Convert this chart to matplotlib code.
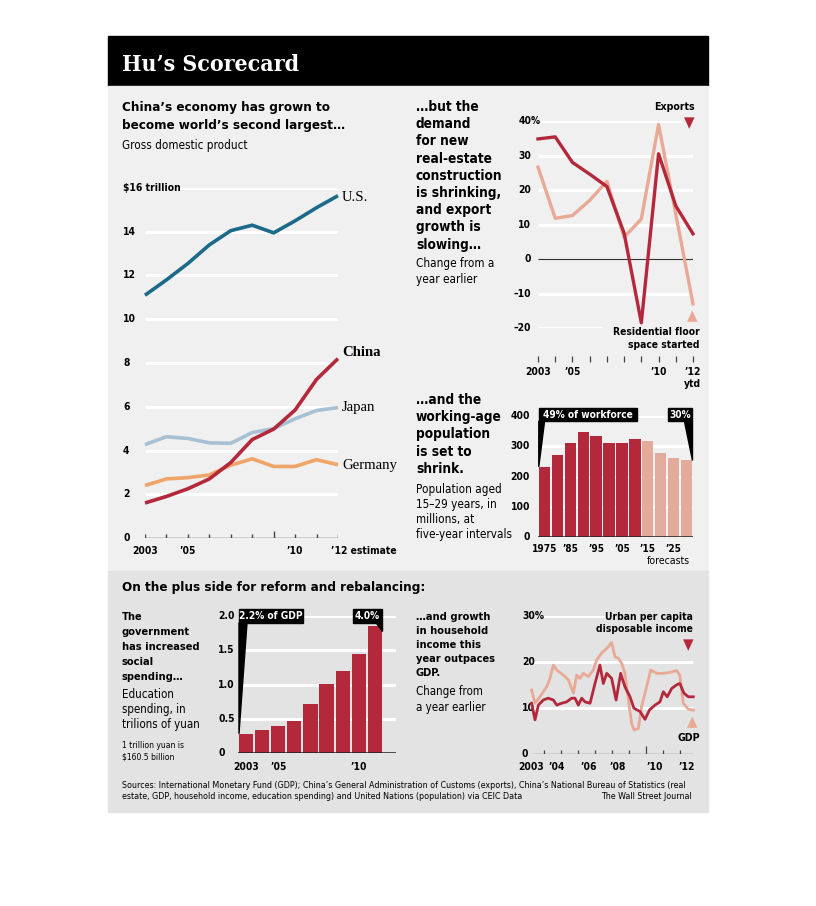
import matplotlib
matplotlib.use("Agg")
import matplotlib.pyplot as plt
from matplotlib import font_manager
from matplotlib.patches import Rectangle, Polygon

W, H = 816, 906

# PIB (trilhões de US$)
gdp_years = [2003, 2004, 2005, 2006, 2007, 2008, 2009, 2010, 2011, 2012]
gdp_us = [11.1, 11.8, 12.55, 13.4, 14.05, 14.3, 13.95, 14.5, 15.1, 15.65]
gdp_china = [1.6, 1.9, 2.25, 2.7, 3.45, 4.5, 4.98, 5.85, 7.25, 8.2]
gdp_japan = [4.27, 4.63, 4.55, 4.35, 4.33, 4.82, 5.0, 5.45, 5.83, 5.96]
gdp_germany = [2.4, 2.7, 2.76, 2.88, 3.33, 3.62, 3.27, 3.27, 3.58, 3.35]

# exportações x área residencial iniciada (% a/a)
trade_years = [2003, 2004, 2005, 2006, 2007, 2008, 2009, 2010, 2011, 2012]
exports = [34.8, 35.4, 28.0, 24.6, 21.0, 7.5, -18.5, 30.5, 15.4, 7.3]
residential = [26.6, 11.8, 12.6, 17.0, 22.5, 6.3, 11.6, 39.0, 13.0, -13.0]

# população 15-29 anos (milhões)
pop_labels = ["1975", "1980", "1985", "1990", "1995", "2000", "2005", "2010", "2015", "2020", "2025", "2030"]
pop_values = [232, 272, 310, 346, 335, 310, 312, 323, 316, 279, 262, 256]
pop_n_actual = 8
pop_tick_labels = ["1975", "", "'85", "", "'95", "", "'05", "", "'15", "", "'25", ""]

# gasto com educação (trilhões de yuan)
edu_years = [2003, 2004, 2005, 2006, 2007, 2008, 2009, 2010, 2011]
edu_values = [0.28, 0.33, 0.39, 0.47, 0.71, 1.01, 1.19, 1.44, 1.86]
edu_tick_labels = ["2003", "", "'05", "", "", "", "", "'10", ""]

# renda urbana x PIB (% a/a, trimestral)
inc_x = [2003.27, 2003.47, 2003.67, 2003.96, 2004.25, 2004.55, 2004.75, 2005.04, 2005.33, 2005.63,
         2005.82, 2006.02, 2006.22, 2006.41, 2006.71, 2007.00, 2007.29, 2007.49, 2007.69, 2007.98,
         2008.24, 2008.51, 2008.76, 2009.06, 2009.29, 2009.65, 2009.94, 2010.20, 2010.53, 2010.82,
         2011.02, 2011.25, 2011.51, 2011.80, 2011.99, 2012.23, 2012.49, 2012.78]
income = [11.1, 7.5, 10.7, 11.8, 12.2, 11.8, 10.7, 11.1, 11.4, 12.2,
          12.2, 10.7, 12.2, 11.4, 11.1, 15.4, 19.4, 15.4, 17.6, 16.5,
          11.8, 17.6, 14.7, 12.5, 10.0, 9.3, 7.6, 9.6, 10.7, 11.4,
          13.6, 12.5, 14.3, 15.1, 15.4, 13.3, 12.5, 12.5]
gdp_q_x = [2003.27, 2003.47, 2003.76, 2004.16, 2004.35, 2004.55, 2004.75, 2005.14, 2005.43, 2005.73,
           2005.92, 2006.12, 2006.31, 2006.61, 2006.90, 2007.10, 2007.39, 2007.69, 2007.98, 2008.18,
           2008.37, 2008.57, 2008.76, 2008.96, 2009.16, 2009.29, 2009.55, 2009.74, 2010.04, 2010.27,
           2010.63, 2011.02, 2011.41, 2011.80, 2011.99, 2012.19, 2012.49, 2012.78]
gdp_q = [14.0, 11.1, 12.5, 14.7, 16.5, 19.4, 18.3, 17.2, 16.2, 13.3,
         17.2, 16.5, 17.6, 16.9, 18.3, 20.5, 22.0, 23.0, 24.3, 21.2,
         20.9, 19.8, 17.6, 11.8, 6.7, 5.3, 5.6, 10.4, 14.7, 18.3,
         17.6, 17.6, 17.8, 18.2, 17.2, 11.1, 9.8, 9.6]

RED = "#b3283b"
PINK = "#e9a997"
PINK_BAR = "#e2ab9c"
TEAL = "#1c6a8a"
JAPAN = "#a8c0d3"
ORANGE = "#efa468"
TOP_BG = "#f0f0f0"
BOT_BG = "#e3e3e3"
AXIS = "#444444"

names = {f.name for f in font_manager.fontManager.ttflist}
if "Liberation Sans Narrow" in names:
    plt.rcParams["font.family"] = "Liberation Sans Narrow"
    FS = 1.25
else:
    plt.rcParams["font.family"] = "DejaVu Sans"
    plt.rcParams["font.stretch"] = "condensed"
    FS = 1.0

fig = plt.figure(figsize=(W / 100, H / 100), dpi=100)
fig.patch.set_facecolor("white")


def rect(x0, y0, x1, y1, color):
    fig.patches.append(Rectangle((x0 / W, 1 - y1 / H), (x1 - x0) / W, (y1 - y0) / H,
                                 transform=fig.transFigure, color=color, zorder=-10))


def text(x, y, s, size, **kw):
    kw.setdefault("va", "center")
    fig.text(x / W, 1 - y / H, s, fontsize=size * FS, **kw)


def block(x, y0, step, rows, size, **kw):
    for i, s in enumerate(rows):
        text(x, y0 + i * step, s, size, **kw)


def axes(x0, y0, x1, y1):
    ax = fig.add_axes([x0 / W, 1 - y1 / H, (x1 - x0) / W, (y1 - y0) / H])
    ax.set_axis_off()
    return ax


def label(ax, s, xy, dx, dy, size=7.4, **kw):
    kw.setdefault("va", "center")
    kw.setdefault("fontweight", "bold")
    ax.annotate(s, xy=xy, xytext=(dx, dy), textcoords="offset pixels",
                annotation_clip=False, fontsize=size * FS, **kw)


# fundos
rect(108, 36, 708, 86, "black")
rect(108, 86, 708, 571, TOP_BG)
rect(108, 571, 708, 812, BOT_BG)
fig.text(122 / W, 1 - 65 / H, "Hu\u2019s Scorecard", color="white", fontsize=16.5, fontweight="bold",
         family="DejaVu Serif", fontstretch="condensed", va="center")

# ---- PIB ----
block(122, 107, 18, ["China\u2019s economy has grown to", "become world\u2019s second largest\u2026"],
      9.6, fontweight="bold")
text(122, 146, "Gross domestic product", 8.4)

ax = axes(145, 188, 338, 538)
ax.set_xlim(2003, 2012)
ax.set_ylim(0, 16)
for v in range(2, 17, 2):
    start = 2004.5 if v == 16 else 2003
    ax.hlines(v, start, 2012, color="white", lw=2.2, zorder=1)
ax.hlines(0, 2003, 2012, color=AXIS, lw=1)
for yr in gdp_years:
    ax.vlines(yr, 0, 0.32 if yr == 2009 else 0.18, color=AXIS, lw=1)
for v in range(0, 17, 2):
    label(ax, "$16 trillion" if v == 16 else str(v), (2003, v), -22, 0, ha="left")
for yr, s in [(2003, "2003"), (2005, "\u201905"), (2010, "\u201910")]:
    label(ax, s, (yr, 0), 0, -13, ha="center")
label(ax, "\u201912 estimate", (2012, 0), -7, -13, ha="left")

for vals, col, z in [(gdp_germany, ORANGE, 2), (gdp_japan, JAPAN, 3), (gdp_us, TEAL, 4), (gdp_china, RED, 5)]:
    ax.plot(gdp_years, vals, color=col, lw=2.6, clip_on=False, zorder=z, solid_capstyle="butt")

ax.annotate("U.S.", (2012, gdp_us[-1]), xytext=(4, -2), textcoords="offset pixels", va="center",
            family="Liberation Serif", fontsize=10.6)
ax.annotate("China", (2012, gdp_china[-1]), xytext=(4, 6), textcoords="offset pixels", va="center",
            family="Liberation Serif", fontsize=10.6, fontweight="bold")
ax.annotate("Japan", (2012, gdp_japan[-1]), xytext=(4, 0), textcoords="offset pixels", va="center",
            family="Liberation Serif", fontsize=10.6)
ax.annotate("Germany", (2012, gdp_germany[-1]), xytext=(4, -1), textcoords="offset pixels", va="center",
            family="Liberation Serif", fontsize=10.6)

# ---- exportações ----
block(416, 107, 17.2, ["\u2026but the", "demand", "for new", "real-estate", "construction",
                       "is shrinking,", "and export", "growth is", "slowing\u2026"],
      9.8, fontweight="bold")
block(416, 264, 16, ["Change from a", "year earlier"], 8.4)

ax = axes(538, 121, 693, 328)
ax.set_xlim(2003, 2012)
ax.set_ylim(-20, 40)
for v in [-10, 10, 20, 30]:
    ax.hlines(v, 2003, 2012, color="white", lw=2.2, zorder=1)
ax.hlines(40, 2003.2, 2011.3, color="white", lw=2.2, zorder=1)
ax.hlines(-20, 2003, 2006.7, color="white", lw=2.2, zorder=1)
ax.hlines(0, 2003, 2012, color="#333333", lw=0.8, zorder=2)
ax.vlines(trade_years, -28, -29.9, color=AXIS, lw=0.9, clip_on=False)
label(ax, "40%", (2003, 40), -19, 0, ha="left")
for v in [30, 20, 10, 0, -10, -20]:
    label(ax, str(v).replace("-", "\u2013"), (2003, v), -7, 0, ha="right")
for yr, s in [(2003, "2003"), (2005, "\u201905"), (2010, "\u201910"), (2012, "\u201912")]:
    label(ax, s, (yr, -20), 0, -44, ha="center")
label(ax, "ytd", (2012, -20), 0, -56, ha="center")
ax.plot(trade_years, residential, color=PINK, lw=2.4, clip_on=False, zorder=3)
ax.plot(trade_years, exports, color=RED, lw=2.4, clip_on=False, zorder=4)

text(695, 107, "Exports", 7.6, ha="right", fontweight="bold")
fig.text(689 / W, 1 - 123 / H, "\u25bc", ha="center", va="center", color=RED, fontsize=11,
         family="DejaVu Sans")
fig.text(692 / W, 1 - 316 / H, "\u25b2", ha="center", va="center", color=PINK, fontsize=11,
         family="DejaVu Sans")
block(700, 332, 13, ["Residential floor", "space started"], 7.4, ha="right", fontweight="bold")

# ---- população ----
block(416, 400, 17.2, ["\u2026and the", "working-age", "population", "is set to", "shrink."],
      9.8, fontweight="bold")
block(416, 489, 15.3, ["Population aged", "15\u201329 years, in", "millions, at", "five-year intervals"],
      8.4)

ax = axes(538, 416, 693, 537)
n = len(pop_values)
ax.set_xlim(-0.5, n - 0.5)
ax.set_ylim(0, 400)
for v in [100, 200, 300, 400]:
    ax.hlines(v, -0.5, n - 0.5, color="white", lw=2.2, zorder=1)
bw = 0.88
colors = [RED if i < pop_n_actual else PINK_BAR for i in range(n)]
ax.bar(range(n), pop_values, width=bw, color=colors, zorder=2)
ax.hlines(0, -0.9, n - 0.5, color="#222222", lw=1.1, zorder=3)
for v in [400, 300, 200, 100, 0]:
    label(ax, str(v), (-0.5, v), -8, 0, ha="right")
for i, s in enumerate(pop_tick_labels):
    if s:
        label(ax, s.replace("'", "\u2019"), (i, 0), 0, -12, size=7.2, ha="center")
label(ax, "forecasts", ((pop_n_actual + n - 1) / 2 + 0.1, 0), 0, -24, size=7.6, ha="center",
      fontweight="normal")
# chamadas
left = -bw / 2
right = n - 1 + bw / 2
ax.add_patch(Rectangle((left, 383), 7.6, 43, color="black", clip_on=False, zorder=5))
ax.add_patch(Polygon([(left, 383), (left + 0.45, 383), (left, pop_values[0])], color="black",
                     clip_on=False, zorder=5))
ax.text(left + 3.8, 404, "49% of workforce", color="white", fontsize=7.3 * FS, fontweight="bold",
        ha="center", va="center", zorder=6)
ax.add_patch(Rectangle((right - 1.9, 383), 1.9, 43, color="black", clip_on=False, zorder=5))
ax.add_patch(Polygon([(right - 0.65, 383), (right, 383), (right, pop_values[-1])], color="black",
                     clip_on=False, zorder=5))
ax.text(right - 0.95, 404, "30%", color="white", fontsize=7.3 * FS, fontweight="bold",
        ha="center", va="center", zorder=6)

# ---- parte de baixo ----
text(122, 588, "On the plus side for reform and rebalancing:", 9.6, fontweight="bold")

block(122, 617, 15, ["The", "government", "has increased", "social", "spending\u2026"],
      7.9, fontweight="bold")
block(122, 694, 15.2, ["Education", "spending, in", "trilions of yuan"], 8.3)
block(122, 745, 12, ["1 trillion yuan is", "$160.5 billion"], 6.1)

ax = axes(238, 616, 396, 753)
m = len(edu_values)
ax.set_xlim(-0.5, 9.31)
ax.set_ylim(0, 2)
for v in [0.5, 1.0, 1.5, 2.0]:
    ax.hlines(v, -0.5, 9.31, color="white", lw=2.2, zorder=1)
ax.bar(range(m), edu_values, width=bw, color=RED, zorder=2)
ax.hlines(0, -0.8, 9.31, color="#222222", lw=1.1, zorder=3)
for v, s in [(2.0, "2.0"), (1.5, "1.5"), (1.0, "1.0"), (0.5, "0.5"), (0, "0")]:
    label(ax, s, (-0.5, v), -20, 0, ha="left")
for i, s in enumerate(edu_tick_labels):
    if s:
        label(ax, s.replace("'", "\u2019"), (i, 0), 0, -14, ha="center")
eleft = -bw / 2
eright = m - 1 + bw / 2
ax.add_patch(Rectangle((eleft, 1.9), 4.0, 0.2, color="black", clip_on=False, zorder=5))
ax.add_patch(Polygon([(eleft, 1.9), (eleft + 0.5, 1.9), (eleft, edu_values[0])], color="black",
                     clip_on=False, zorder=5))
ax.text(eleft + 2.0, 2.0, "2.2% of GDP", color="white", fontsize=7.3 * FS, fontweight="bold",
        ha="center", va="center", zorder=6)
ax.add_patch(Rectangle((eright - 1.8, 1.9), 1.8, 0.2, color="black", clip_on=False, zorder=5))
ax.add_patch(Polygon([(eright - 0.4, 1.9), (eright, 1.9), (eright, edu_values[-1] - 0.08)],
                     color="black", clip_on=False, zorder=5))
ax.text(eright - 0.9, 2.0, "4.0%", color="white", fontsize=7.3 * FS, fontweight="bold",
        ha="center", va="center", zorder=6)

# ---- renda ----
block(416, 617, 14, ["\u2026and growth", "in household", "income this", "year outpaces", "GDP."],
      7.9, fontweight="bold")
block(416, 692, 15, ["Change from", "a year earlier"], 8.3)

ax = axes(527, 616.3, 697, 754.3)
ax.set_xlim(2003, 2013)
ax.set_ylim(0, 30)
ax.hlines([10, 20], inc_x[0], inc_x[-1], color="white", lw=2.2, zorder=1)
ax.hlines(30, 2003.6, 2007.5, color="white", lw=2.2, zorder=1)
ax.hlines(0, inc_x[0], inc_x[-1], color=AXIS, lw=0.9)
for yr in range(2004, 2013):
    ax.vlines(yr, 0, 1.7 if yr == 2010 else 0.9, color=AXIS, lw=0.9)
label(ax, "30%", (2003, 30), -5, 0, ha="left")
for v in [20, 10, 0]:
    label(ax, str(v), (2003, v), -5, 0, ha="left")
for yr, s, dx in [(2003, "2003", -4), (2004, "\u201904", 4), (2006, "\u201906", 2), (2008, "\u201908", -3),
                  (2010, "\u201910", 0), (2012, "\u201912", -2)]:
    label(ax, s, (yr + 0.5, 0), dx, -13, ha="center")
ax.plot(gdp_q_x, gdp_q, color=PINK, lw=2, clip_on=False, zorder=3)
ax.plot(inc_x, income, color=RED, lw=2, clip_on=False, zorder=4)

block(693, 617, 12.5, ["Urban per capita", "disposable income"], 7.4, ha="right", fontweight="bold")
fig.text(688 / W, 1 - 645 / H, "\u25bc", ha="center", va="center", color=RED, fontsize=11,
         family="DejaVu Sans")
fig.text(692 / W, 1 - 722 / H, "\u25b2", ha="center", va="center", color=PINK, fontsize=11,
         family="DejaVu Sans")
text(700, 738, "GDP", 7.6, ha="right", fontweight="bold")

# fontes
block(122, 785, 11.5, ["Sources: International Monetary Fund (GDP); China\u2019s General Administration of "
                       "Customs (exports), China\u2019s National Bureau of Statistics (real",
                       "estate, GDP, household income, education spending) and United Nations "
                       "(population) via CEIC Data"], 6.4)
text(692, 796.5, "The Wall Street Journal", 6.4, ha="right")

fig.savefig("out.png", dpi=100, facecolor="white")
